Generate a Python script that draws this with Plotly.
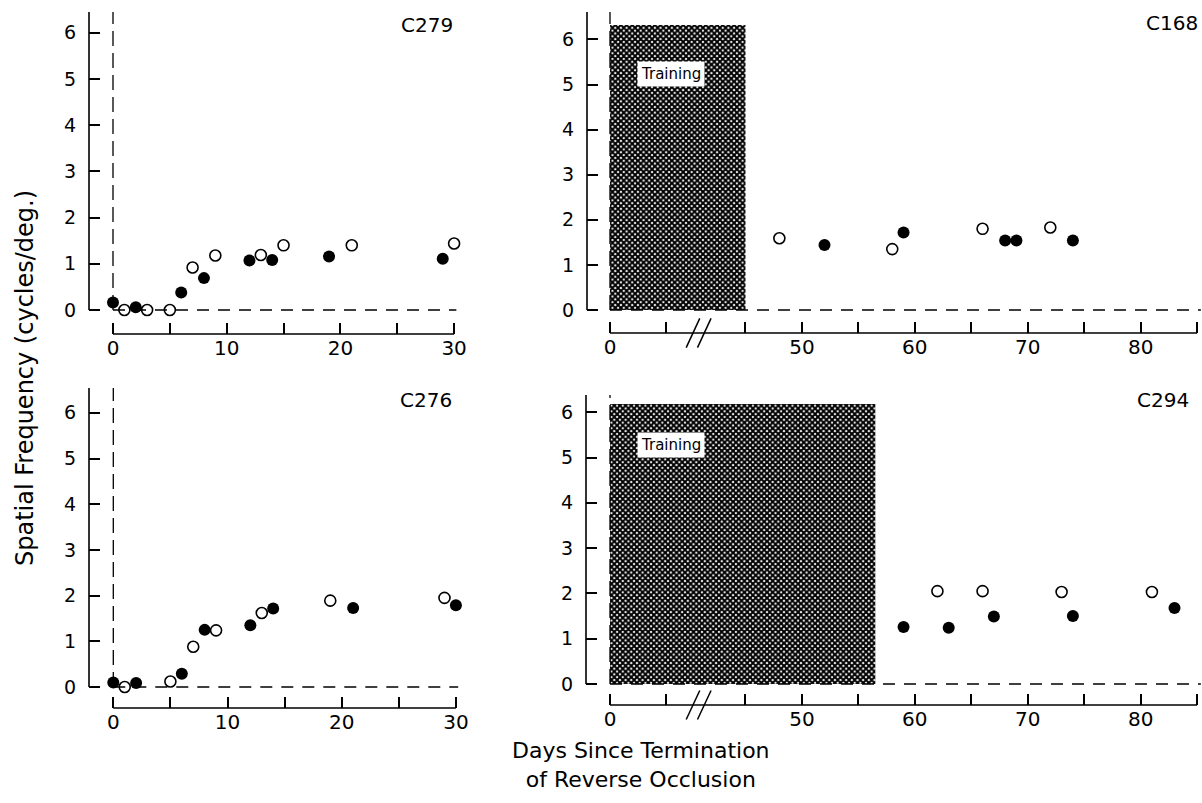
import plotly.graph_objects as go

W, H = 1202, 803

# ---------------- data (days since termination, spatial frequency) -------------
c279_filled_day = [0, 2, 6, 8, 12, 14, 19, 29]
c279_filled_sf = [0.16, 0.06, 0.38, 0.69, 1.07, 1.08, 1.16, 1.11]
c279_open_day = [1, 3, 5, 7, 9, 13, 15, 21, 30]
c279_open_sf = [0.0, 0.0, 0.0, 0.92, 1.18, 1.19, 1.40, 1.40, 1.44]

c276_filled_day = [0, 2, 6, 8, 12, 14, 21, 30]
c276_filled_sf = [0.10, 0.09, 0.29, 1.25, 1.35, 1.72, 1.73, 1.79]
c276_open_day = [1, 5, 7, 9, 13, 19, 29]
c276_open_sf = [0.0, 0.12, 0.88, 1.24, 1.62, 1.89, 1.95]

c168_filled_day = [52, 59, 68, 69, 74]
c168_filled_sf = [1.44, 1.72, 1.54, 1.54, 1.54]
c168_open_day = [48, 58, 66, 72]
c168_open_sf = [1.59, 1.35, 1.80, 1.83]

c294_filled_day = [59, 63, 67, 74, 83]
c294_filled_sf = [1.26, 1.24, 1.49, 1.50, 1.68]
c294_open_day = [62, 66, 73, 81]
c294_open_sf = [2.05, 2.05, 2.03, 2.03]

c168_training = [0, 45]
c294_training = [0, 56.5]

y_ticks = [0, 1, 2, 3, 4, 5, 6]
left_x_ticks = [0, 5, 10, 15, 20, 25, 30]
left_x_labels = ["0", "", "10", "", "20", "", "30"]
right_x_ticks = [0, 5, 45, 50, 55, 60, 65, 70, 75, 80, 85]
right_x_labels = ["0", "", "", "50", "", "60", "", "70", "", "80", ""]

BREAK_HIDDEN = 33  # days removed by the axis break (between day 5 and day 45)


def shown(d):
    """position on the broken axis"""
    return d if d <= 10 else d - BREAK_HIDDEN


FONT = "DejaVu Sans"

# panel geometry in pixels: left, right, top, bottom, x0px, px/day, y0px, px/unit
panels = {
    1: dict(px=(89, 470, 8, 334), x0=113, sx=11.37, y0=310, sy=46.2),      # C279
    2: dict(px=(587, 1202, 8, 333), x0=610, sx=11.29, y0=310, sy=45.1),    # C168
    3: dict(px=(89, 470, 383, 708), x0=113.3, sx=11.42, y0=687, sy=45.7),  # C276
    4: dict(px=(586, 1202, 383, 705), x0=610, sx=11.29, y0=684, sy=45.3),  # C294
}

fig = go.Figure()
layout = dict(width=W, height=H, margin=dict(l=0, r=0, t=0, b=0),
              paper_bgcolor="white", plot_bgcolor="white", showlegend=False)

for n, p in panels.items():
    l, r, t, b = p["px"]
    xr = [(l - p["x0"]) / p["sx"], (r - p["x0"]) / p["sx"]]
    yr = [(p["y0"] - b) / p["sy"], (p["y0"] - t) / p["sy"]]
    sfx = "" if n == 1 else str(n)
    if n in (1, 3):
        tv, tt = left_x_ticks, left_x_labels
    else:
        tv, tt = [shown(d) for d in right_x_ticks], right_x_labels
    layout["xaxis" + sfx] = dict(
        domain=[l / W, r / W], range=xr, anchor="y" + sfx,
        showline=False, showgrid=False, zeroline=False,
        ticks="inside", ticklen=11, tickwidth=1.5, tickcolor="black",
        tickmode="array", tickvals=tv, ticktext=tt,
        tickfont=dict(family=FONT, size=20, color="black"), fixedrange=True)
    layout["yaxis" + sfx] = dict(
        domain=[1 - b / H, 1 - t / H], range=yr, anchor="x" + sfx,
        showline=False, showgrid=False, zeroline=False,
        ticks="inside", ticklen=11, tickwidth=1.5, tickcolor="black",
        tickmode="array", tickvals=y_ticks, ticktext=[str(v) for v in y_ticks],
        ticklabelstandoff=12,
        tickfont=dict(family=FONT, size=19, color="black"), fixedrange=True)

fig.update_layout(**layout)


def xa(n):
    return "x" if n == 1 else "x%d" % n


def ya(n):
    return "y" if n == 1 else "y%d" % n


# training boxes (drawn first, under the points)
for n, tr, top in [(2, c168_training, 6.32), (4, c294_training, 6.18)]:
    x0, x1 = shown(tr[0]), shown(tr[1])
    fig.add_trace(go.Scatter(
        x=[x0, x0, x1, x1, x0], y=[0, top, top, 0, 0], xaxis=xa(n), yaxis=ya(n),
        mode="lines", line=dict(width=0), fill="toself", fillcolor="white",
        fillpattern=dict(shape="x", size=4, solidity=0.75, fgcolor="black",
                         bgcolor="white", fillmode="replace"),
        hoverinfo="skip"))

series = [
    (1, c279_filled_day, c279_filled_sf, c279_open_day, c279_open_sf, False),
    (2, c168_filled_day, c168_filled_sf, c168_open_day, c168_open_sf, True),
    (3, c276_filled_day, c276_filled_sf, c276_open_day, c276_open_sf, False),
    (4, c294_filled_day, c294_filled_sf, c294_open_day, c294_open_sf, True),
]

shapes = []
line_tops = {1: 6.45, 2: 6.61, 3: 6.54, 4: 6.38}
for n, fd, fs, od, os_, broken in series:
    p = panels[n]
    xmax_px = p["px"][1]
    x_end = shown(85) if broken else 30
    dash_end = (xmax_px - p["x0"]) / p["sx"] - 0.1 if broken else 30.2
    # y axis line
    shapes.append(dict(type="line", xref=xa(n) + " domain", yref=ya(n), x0=0, x1=0,
                       y0=0, y1=line_tops[n], line=dict(color="black", width=1.6)))
    # x axis line
    shapes.append(dict(type="line", xref=xa(n), yref=ya(n) + " domain", x0=0, x1=x_end,
                       y0=0, y1=0, line=dict(color="black", width=1.6)))
    # dashed reference lines
    shapes.append(dict(type="line", xref=xa(n), yref=ya(n), x0=0, x1=dash_end, y0=0, y1=0,
                       line=dict(color="black", width=1.3, dash="12px,9px")))
    shapes.append(dict(type="line", xref=xa(n), yref=ya(n), x0=0, x1=0, y0=0,
                       y1=line_tops[n], line=dict(color="black", width=1.3, dash="15px,7px")))
    if broken:
        for off in (-0.45, 0.55):
            xb = 7.8 + off
            shapes.append(dict(type="line", xref=xa(n), yref=ya(n) + " domain",
                               x0=xb - 0.6, x1=xb + 0.6, y0=-0.045, y1=0.045,
                               line=dict(color="black", width=1.5)))
    fx = [shown(d) for d in fd] if broken else fd
    ox = [shown(d) for d in od] if broken else od
    fig.add_trace(go.Scatter(x=ox, y=os_, xaxis=xa(n), yaxis=ya(n), mode="markers",
                             marker=dict(size=11, color="white",
                                         line=dict(color="black", width=1.6)),
                             cliponaxis=False))
    fig.add_trace(go.Scatter(x=fx, y=fs, xaxis=xa(n), yaxis=ya(n), mode="markers",
                             marker=dict(size=12, color="black",
                                         line=dict(color="black", width=0)),
                             cliponaxis=False))

fig.update_layout(shapes=shapes)

annotations = []
for n, text, x, y in [(1, "C279", 27.6, 6.17), (3, "C276", 27.4, 6.28),
                      (2, "C168", 49.8, 6.36), (4, "C294", 49.0, 6.27)]:
    annotations.append(dict(xref=xa(n), yref=ya(n), x=x, y=y, text=text, showarrow=False,
                            font=dict(family=FONT, size=20, color="black"),
                            xanchor="center", yanchor="middle"))
for n, y in [(2, 5.24), (4, 5.28)]:
    annotations.append(dict(xref=xa(n), yref=ya(n), x=2.4, y=y, text="Training",
                            showarrow=False, bgcolor="white", borderpad=3,
                            font=dict(family=FONT, size=15, color="black"),
                            xanchor="left", yanchor="middle"))
annotations.append(dict(xref="paper", yref="paper", x=25 / W, y=1 - 378 / H,
                        text="Spatial Frequency (cycles/deg.)", textangle=-90,
                        showarrow=False, xanchor="center", yanchor="middle",
                        font=dict(family=FONT, size=24, color="black")))
annotations.append(dict(xref="paper", yref="paper", x=641 / W, y=1 - 765 / H,
                        text="Days Since Termination<br>of Reverse Occlusion",
                        showarrow=False, xanchor="center", yanchor="middle",
                        font=dict(family=FONT, size=22, color="black")))
fig.update_layout(annotations=annotations)

fig.write_html("out.html")
